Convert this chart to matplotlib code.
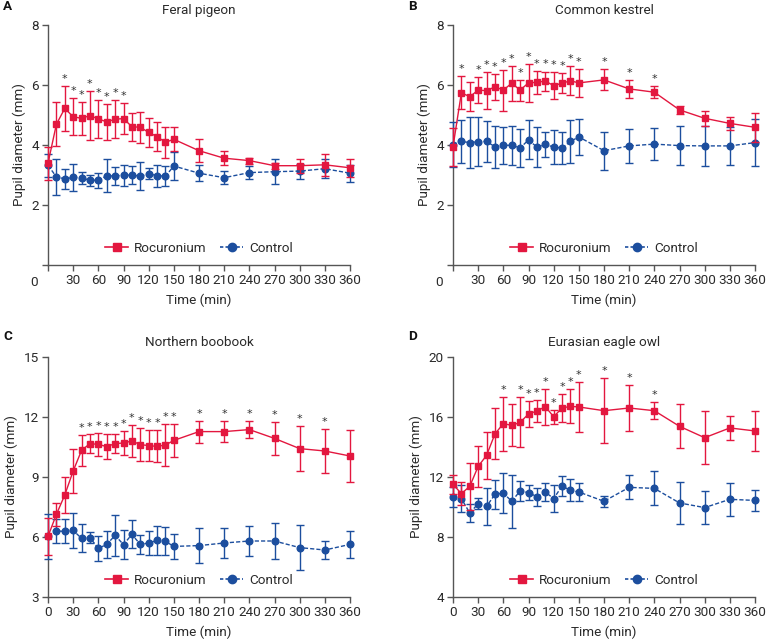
import matplotlib
matplotlib.use("Agg")
import matplotlib.pyplot as plt
from matplotlib.lines import Line2D
import numpy as np

plt.rcParams['font.family'] = ['Roboto', 'DejaVu Sans']

time = [0, 10, 20, 30, 40, 50, 60, 70, 80, 90, 100, 110, 120, 130, 140, 150,
        180, 210, 240, 270, 300, 330, 360]
xticks = [0, 30, 60, 90, 120, 150, 180, 210, 240, 270, 300, 330, 360]

titles = ["Feral pigeon", "Common kestrel", "Northern boobook", "Eurasian eagle owl"]
letters = ["A", "B", "C", "D"]

# Panel A
roc_a = [3.39, 4.69, 5.22, 4.94, 4.89, 4.98, 4.87, 4.77, 4.86, 4.88, 4.61, 4.59, 4.42, 4.28, 4.09, 4.19,
         3.81, 3.56, 3.48, 3.31, 3.31, 3.34, 3.24]
roc_a_sd = [0.55, 0.73, 0.76, 0.62, 0.55, 0.81, 0.63, 0.59, 0.64, 0.52, 0.46, 0.51, 0.49, 0.48, 0.52, 0.40,
            0.38, 0.24, 0.10, 0.10, 0.24, 0.36, 0.29]
ctl_a = [3.32, 2.94, 2.87, 2.92, 2.91, 2.82, 2.83, 2.97, 2.97, 2.99, 3.00, 2.96, 3.04, 2.98, 2.96, 3.30,
         3.06, 2.91, 3.08, 3.11, 3.13, 3.21, 3.06]
ctl_a_sd = [0.38, 0.60, 0.32, 0.44, 0.20, 0.19, 0.25, 0.55, 0.31, 0.35, 0.31, 0.47, 0.18, 0.37, 0.34, 0.46,
            0.26, 0.21, 0.21, 0.42, 0.25, 0.32, 0.28]
sig_a = [20, 30, 40, 50, 60, 70, 80, 90]

# Panel B
roc_b = [3.94, 5.74, 5.61, 5.83, 5.81, 5.94, 5.83, 6.06, 5.83, 6.07, 6.09, 6.13, 5.98, 6.06, 6.14, 6.07,
         6.17, 5.87, 5.76, 5.17, 4.89, 4.72, 4.59]
roc_b_sd = [0.64, 0.55, 0.49, 0.44, 0.61, 0.43, 0.68, 0.58, 0.35, 0.64, 0.39, 0.32, 0.44, 0.33, 0.48, 0.47,
            0.35, 0.31, 0.20, 0.12, 0.25, 0.21, 0.48]
ctl_b = [4.01, 4.12, 4.08, 4.11, 4.12, 3.94, 3.99, 3.99, 3.90, 4.17, 3.93, 4.02, 3.93, 3.90, 4.12, 4.27,
         3.81, 3.97, 4.03, 3.98, 3.97, 3.97, 4.08]
ctl_b_sd = [0.75, 0.71, 0.85, 0.81, 0.69, 0.71, 0.61, 0.66, 0.63, 0.65, 0.66, 0.41, 0.56, 0.54, 0.73, 0.60,
            0.64, 0.58, 0.54, 0.64, 0.68, 0.63, 0.78]
sig_b = [10, 30, 40, 50, 60, 70, 80, 90, 100, 110, 120, 130, 140, 150, 180, 210, 240]

# Panel C
roc_c = [6.03, 7.13, 8.10, 9.30, 10.33, 10.67, 10.63, 10.52, 10.67, 10.70, 10.80, 10.62, 10.57, 10.53, 10.60, 10.83,
         11.27, 11.27, 11.37, 10.93, 10.42, 10.30, 10.05]
roc_c_sd = [0.92, 0.56, 0.92, 1.12, 0.77, 0.48, 0.57, 0.62, 0.48, 0.60, 0.82, 0.82, 0.78, 0.80, 1.06, 0.83,
            0.55, 0.52, 0.43, 0.84, 1.14, 1.10, 1.29]
ctl_c = [6.03, 6.30, 6.28, 6.33, 5.93, 5.97, 5.43, 5.63, 6.08, 5.62, 6.13, 5.63, 5.70, 5.83, 5.78, 5.53,
         5.57, 5.70, 5.80, 5.80, 5.47, 5.35, 5.63]
ctl_c_sd = [1.14, 0.60, 0.60, 0.88, 0.70, 0.26, 0.62, 0.67, 1.02, 0.72, 0.70, 0.47, 0.59, 0.73, 0.70, 0.61,
            0.88, 0.73, 0.73, 0.88, 1.12, 0.47, 0.66]
sig_c = [40, 50, 60, 70, 80, 90, 100, 110, 120, 130, 140, 150, 180, 210, 240, 270, 300, 330]

# Panel D
roc_d = [11.51, 10.89, 11.38, 12.71, 13.44, 14.87, 15.56, 15.44, 15.64, 16.20, 16.40, 16.69, 16.02, 16.60, 16.71, 16.67,
         16.42, 16.60, 16.42, 15.38, 14.62, 15.27, 15.07]
roc_d_sd = [0.61, 0.78, 1.55, 1.37, 1.56, 1.70, 1.80, 1.40, 1.67, 0.87, 0.76, 1.20, 0.47, 0.96, 1.14, 1.67,
            2.16, 1.51, 0.58, 1.46, 1.77, 0.79, 1.36]
ctl_d = [10.67, 10.56, 9.60, 10.22, 10.04, 10.84, 10.93, 10.38, 11.07, 10.96, 10.69, 11.00, 10.56, 11.40, 11.11, 11.00,
         10.38, 11.31, 11.24, 10.27, 9.96, 10.51, 10.44]
ctl_d_sd = [0.69, 0.90, 0.63, 0.35, 1.22, 0.94, 1.31, 1.76, 0.67, 0.51, 0.60, 0.59, 0.90, 0.69, 0.74, 0.58,
            0.36, 0.80, 1.13, 1.42, 1.12, 1.11, 0.70]
sig_d = [60, 80, 90, 100, 110, 120, 130, 140, 150, 180, 210, 240]

panels = [
    (roc_a, roc_a_sd, ctl_a, ctl_a_sd, sig_a, (0, 8), [0, 2, 4, 6, 8]),
    (roc_b, roc_b_sd, ctl_b, ctl_b_sd, sig_b, (0, 8), [0, 2, 4, 6, 8]),
    (roc_c, roc_c_sd, ctl_c, ctl_c_sd, sig_c, (3, 15), [3, 6, 9, 12, 15]),
    (roc_d, roc_d_sd, ctl_d, ctl_d_sd, sig_d, (4, 20), [4, 8, 12, 16, 20]),
]

RED = "#E3173F"
BLUE = "#1C4E9E"
GRAY = "#555555"
TXT = "#2a2a2a"
FS = 9.7

W, H = 767, 643
fig = plt.figure(figsize=(W / 100, H / 100), dpi=100)

boxes = [(48, 25), (453, 25), (48, 357), (453, 357)]
aw, ah = 302, 240
letter_pos = [(3, 7), (408, 7), (3, 337), (408, 337)]

for i, (roc, roc_sd, ctl, ctl_sd, sig, ylim, yticks) in enumerate(panels):
    lx, ty = boxes[i]
    ax = fig.add_axes([lx / W, 1 - (ty + ah) / H, aw / W, ah / H])
    ax.errorbar(time, ctl, yerr=ctl_sd, color=BLUE, ls=(0, (3, 1.5)), lw=1.0,
                marker='o', ms=4.8, elinewidth=1.0, capsize=2.8, capthick=1.0,
                clip_on=False, zorder=3)
    ax.errorbar(time, roc, yerr=roc_sd, color=RED, ls='-', lw=1.0,
                marker='s', ms=4.8, elinewidth=1.0, capsize=2.8, capthick=1.0,
                clip_on=False, zorder=4)
    for t in sig:
        k = time.index(t)
        ax.annotate('*', xy=(t, roc[k] + roc_sd[k]), xytext=(0, 1.5),
                    textcoords='offset points', ha='center', va='bottom',
                    fontsize=8, color='#333333', family=['DejaVu Sans'])
    ax.set_xlim(0, 360)
    ax.set_ylim(*ylim)
    ax.set_yticks(yticks)
    ax.set_xticks(xticks)
    if ylim[0] == 0:
        ax.set_yticklabels([''] + [str(v) for v in yticks[1:]])
        ax.set_xticklabels([''] + [str(v) for v in xticks[1:]])
        ax.annotate('0', xy=(0, 0), xycoords='axes fraction', xytext=(-14, -17),
                    textcoords='offset pixels', ha='center', va='center', fontsize=FS, color=TXT)
    for s in ['top', 'right']:
        ax.spines[s].set_visible(False)
    for s in ['left', 'bottom']:
        ax.spines[s].set_color(GRAY)
        ax.spines[s].set_linewidth(1.0)
    ax.tick_params(direction='out', length=4, width=1.0, color=GRAY, labelsize=FS,
                   labelcolor=TXT, pad=2.5)
    ax.set_xlabel('Time (min)', fontsize=FS, color=TXT, labelpad=5)
    ax.set_ylabel('Pupil diameter (mm)', fontsize=FS, color=TXT, labelpad=4)
    ax.set_title(titles[i], fontsize=FS, color=TXT, pad=8)
    handles = [Line2D([], [], color=RED, ls='-', lw=1.2, marker='s', ms=6),
               Line2D([], [], color=BLUE, ls=(0, (2.0, 1.3)), lw=1.2, marker='o', ms=6)]
    ax.legend(handles, ['Rocuronium', 'Control'], loc='center', bbox_to_anchor=(0.5, 0.07), ncol=2,
              frameon=False, fontsize=FS, handlelength=1.7, columnspacing=1.0,
              handletextpad=0.45, labelcolor=TXT)
    fig.text(letter_pos[i][0] / W, 1 - letter_pos[i][1] / H, letters[i], fontsize=FS,
             weight='bold', ha='left', va='center', color='#111111')

fig.savefig('out.png', dpi=100)
